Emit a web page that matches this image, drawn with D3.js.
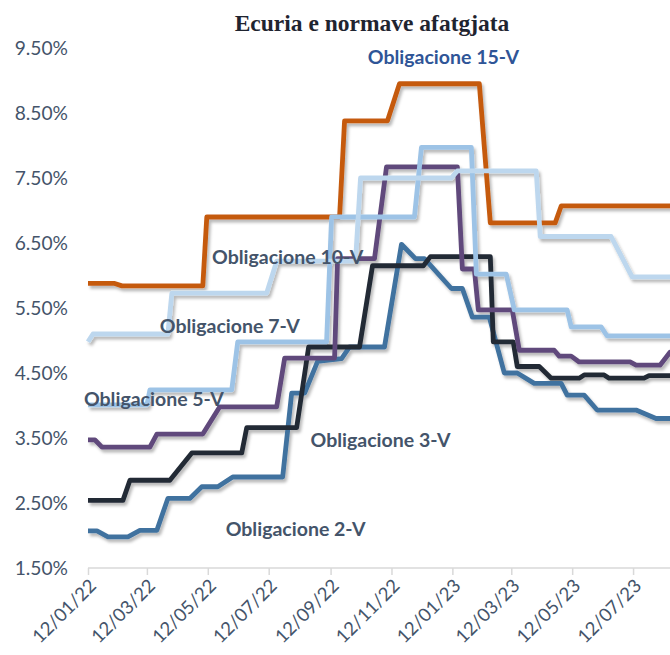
<!DOCTYPE html>
<html>
<head>
<meta charset="utf-8">
<script src="https://cdn.jsdelivr.net/npm/d3@7"></script>
<style>
  html, body { margin: 0; padding: 0; background: #fff; }
  svg { display: block; }
</style>
</head>
<body>
<svg id="chart" width="670" height="655"></svg>
<script>
// ---------- DATA ----------
const chartTitle = "Ecuria e normave afatgjata";
const seriesNames = ["Obligacione 15-V", "Obligacione 2-V", "Obligacione 3-V", "Obligacione 5-V", "Obligacione 7-V", "Obligacione 10-V"];
const xTickDates = ["2022-01-12","2022-03-12","2022-05-12","2022-07-12","2022-09-12","2022-11-12","2023-01-12","2023-03-12","2023-05-12","2023-07-12"];
const yTickValues = [1.5, 2.5, 3.5, 4.5, 5.5, 6.5, 7.5, 8.5, 9.5];

const bond15V = [
  ["2022-01-12",5.88],["2022-02-07",5.88],["2022-02-15",5.84],["2022-05-07",5.84],["2022-05-11",6.90],
  ["2022-09-21",6.90],["2022-09-26",8.38],["2022-11-08",8.38],["2022-11-20",8.95],["2023-02-08",8.95],
  ["2023-02-19",6.81],["2023-04-25",6.81],["2023-05-01",7.07],["2023-08-31",7.07]
];
const bond10V = [
  ["2022-01-12",4.98],["2022-01-17",5.10],["2022-04-02",5.10],["2022-04-06",5.73],["2022-07-10",5.73],
  ["2022-07-20",6.22],["2022-10-07",6.22],["2022-10-12",7.50],["2023-01-11",7.50],["2023-01-17",7.61],
  ["2023-04-06",7.61],["2023-04-10",6.60],["2023-06-20",6.60],["2023-07-11",5.98],["2023-08-31",5.98]
];
const bond7V = [
  ["2022-01-12",4.01],["2022-03-12",4.01],["2022-03-15",4.24],["2022-06-05",4.24],["2022-06-11",4.98],
  ["2022-09-08",4.98],["2022-09-13",6.90],["2022-12-05",6.90],["2022-12-12",7.97],["2023-01-31",7.97],
  ["2023-02-05",6.02],["2023-03-07",6.02],["2023-03-15",5.47],["2023-05-07",5.47],["2023-05-11",5.21],
  ["2023-06-10",5.21],["2023-06-16",5.07],["2023-08-31",5.07]
];
const bond5V = [
  ["2022-01-12",3.47],["2022-01-19",3.47],["2022-01-26",3.36],["2022-03-15",3.36],["2022-03-22",3.56],
  ["2022-05-07",3.56],["2022-05-24",3.98],["2022-07-20",3.98],["2022-07-28",4.73],["2022-09-16",4.73],
  ["2022-09-19",6.26],["2022-10-26",6.26],["2022-11-07",7.67],["2023-01-17",7.67],["2023-01-22",6.10],
  ["2023-02-03",6.10],["2023-02-07",5.47],["2023-03-13",5.47],["2023-03-20",4.85],["2023-04-24",4.85],
  ["2023-04-29",4.76],["2023-05-11",4.76],["2023-05-19",4.67],["2023-07-09",4.67],["2023-07-15",4.62],
  ["2023-08-08",4.62],["2023-08-18",4.82],["2023-08-31",4.82]
];
const bond3V = [
  ["2022-01-12",2.54],["2022-02-16",2.54],["2022-02-23",2.85],["2022-04-04",2.85],["2022-04-26",3.27],
  ["2022-06-15",3.27],["2022-06-20",3.66],["2022-08-09",3.66],["2022-08-21",4.90],["2022-10-11",4.90],
  ["2022-10-24",6.15],["2022-12-14",6.15],["2022-12-21",6.29],["2023-02-19",6.29],["2023-02-22",4.98],
  ["2023-03-14",4.98],["2023-03-18",4.60],["2023-04-09",4.60],["2023-04-21",4.42],["2023-05-19",4.42],
  ["2023-05-24",4.47],["2023-06-13",4.47],["2023-06-18",4.42],["2023-07-23",4.42],["2023-07-28",4.46],
  ["2023-08-31",4.46]
];
const bond2V = [
  ["2022-01-12",2.07],["2022-01-21",2.07],["2022-02-01",1.98],["2022-02-21",1.98],["2022-03-05",2.08],
  ["2022-03-22",2.08],["2022-04-02",2.57],["2022-04-24",2.57],["2022-05-06",2.75],["2022-05-22",2.75],
  ["2022-06-06",2.90],["2022-07-26",2.90],["2022-08-04",4.19],["2022-08-17",4.19],["2022-08-30",4.68],
  ["2022-09-23",4.72],["2022-10-01",4.90],["2022-11-05",4.90],["2022-11-22",6.48],["2022-12-06",6.26],
  ["2022-12-15",6.26],["2023-01-11",5.80],["2023-01-22",5.80],["2023-02-01",5.36],["2023-02-18",5.36],
  ["2023-03-05",4.50],["2023-03-18",4.50],["2023-04-04",4.34],["2023-05-01",4.34],["2023-05-07",4.16],
  ["2023-05-24",4.16],["2023-06-06",3.93],["2023-07-15",3.93],["2023-08-04",3.80],["2023-08-31",3.80]
];

// label anchors (date of label centre, value of label baseline)
const labelDates  = ["2023-01-03","2022-08-08","2022-11-01","2022-03-19","2022-06-03","2022-07-31"];
const labelValues = [9.25, 1.99, 3.36, 3.99, 5.12, 6.18];

// ---------- STYLE ----------
const colors = ["#C55A11", "#41729F", "#222A35", "#604A7B", "#9DC3E6", "#BDD7EE"];
const seriesData = [bond15V, bond2V, bond3V, bond5V, bond7V, bond10V];
const labelColors = ["#2F5597", "#44546A", "#44546A", "#44546A", "#44546A", "#44546A"];

const parse = d3.timeParse("%Y-%m-%d");
const fmt = d3.timeFormat("%d/%m/%y");

const svg = d3.select("#chart");

const x = d3.scaleTime()
  .domain([parse("2022-01-12"), parse("2023-08-18")])
  .range([88, 670]);
const y = d3.scaleLinear().domain([1.5, 9.5]).range([568, 48]);

// shadow filter
const defs = svg.append("defs");
const f = defs.append("filter").attr("id", "shadow")
  .attr("x", "-5%").attr("y", "-5%").attr("width", "110%").attr("height", "115%");
f.append("feDropShadow").attr("dx", 2).attr("dy", 3).attr("stdDeviation", 1.6)
  .attr("flood-color", "#000").attr("flood-opacity", 0.28);

// title
svg.append("text")
  .attr("x", 372).attr("y", 31)
  .attr("text-anchor", "middle")
  .attr("font-family", "'Liberation Serif', 'Times New Roman', serif")
  .attr("font-weight", "bold")
  .attr("font-size", 23.5)
  .attr("fill", "#1F2430")
  .text(chartTitle);

// y axis labels
const yAxis = d3.axisLeft(y).tickValues(yTickValues).tickSize(0).tickPadding(0)
  .tickFormat(d => d3.format(".2f")(d) + "%");
const gy = svg.append("g").attr("transform", "translate(68,0)").call(yAxis);
gy.select(".domain").remove();
gy.selectAll("text")
  .attr("font-family", "Lato, 'Open Sans', sans-serif")
  .attr("font-size", 19.2)
  .attr("fill", "#44546A");

// x axis
const xAxis = d3.axisBottom(x).tickValues(xTickDates.map(parse)).tickSize(7).tickPadding(0)
  .tickFormat(fmt);
const gx = svg.append("g").attr("transform", "translate(0,568)").call(xAxis);
gx.select(".domain").attr("stroke", "#D9D9D9").attr("stroke-width", 1.5)
  .attr("d", "M88,0H670");
gx.selectAll(".tick line").attr("stroke", "#D9D9D9").attr("stroke-width", 1.5);
gx.selectAll(".tick text")
  .attr("font-family", "Lato, 'Open Sans', sans-serif")
  .attr("font-size", 18.5)
  .attr("fill", "#44546A")
  .attr("text-anchor", "end")
  .attr("dy", null)
  .attr("transform", "translate(4,14) rotate(-45)");

// lines
const line = d3.line()
  .x(d => x(parse(d[0])))
  .y(d => y(d[1]));

svg.append("g").attr("filter", "url(#shadow)")
  .selectAll("path")
  .data(seriesData)
  .join("path")
  .attr("d", d => line(d))
  .attr("fill", "none")
  .attr("stroke", (d, i) => colors[i])
  .attr("stroke-width", 4.8)
  .attr("stroke-linejoin", "round")
  .attr("stroke-linecap", "butt");

// labels
svg.append("g").selectAll("text")
  .data(seriesNames)
  .join("text")
  .attr("x", (d, i) => x(parse(labelDates[i])))
  .attr("y", (d, i) => y(labelValues[i]))
  .attr("text-anchor", "middle")
  .attr("font-family", "Lato, 'Open Sans', sans-serif")
  .attr("font-weight", "bold")
  .attr("font-size", 19.5)
  .attr("fill", (d, i) => labelColors[i])
  .text(d => d);
</script>
</body>
</html>
